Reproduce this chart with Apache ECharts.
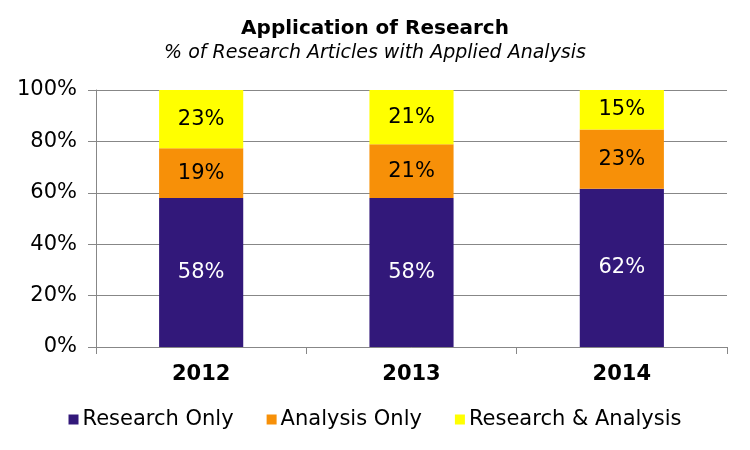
<!DOCTYPE html>
<html>
<head>
<meta charset="utf-8">
<script src="https://cdn.jsdelivr.net/npm/echarts@6/dist/echarts.min.js"></script>
<style>
  html, body { margin: 0; padding: 0; background: #fff; }
  #chart { width: 750px; height: 450px; }
</style>
</head>
<body>
<div id="chart"></div>
<script>
// values (percent of articles)
var years = ['2012', '2013', '2014'];
var researchOnly = [58.0, 58.0, 61.6];
var analysisOnly = [19.3, 20.9, 23.0];
var researchAnalysis = [22.7, 21.1, 15.4];
var yTicks = [0, 20, 40, 60, 80, 100];

var font = 'DejaVu Sans';
var gridGrey = '#878787';

var myChart = echarts.init(document.getElementById('chart'));

function barSeries(name, data, color, labelColor) {
	return {
		name: name,
		type: 'bar',
		stack: 'total',
		barWidth: '40%',
		data: data,
		itemStyle: { color: color },
		label: {
			show: true,
			position: 'inside',
			color: labelColor,
			fontFamily: font,
			fontSize: 21,
			formatter: function(p) {
				return Math.round(p.value) + '%';
			}
		}
	};
}

var option = {
	animation: false,
	backgroundColor: '#fff',
	title: {
		text: 'Application of Research',
		subtext: '% of Research Articles with Applied Analysis',
		left: 'center',
		top: 14,
		itemGap: 5,
		textStyle: { fontFamily: font, fontSize: 20, fontWeight: 'bold', color: '#000' },
		subtextStyle: { fontFamily: font, fontSize: 19, fontStyle: 'italic', color: '#000' }
	},
	legend: {
		bottom: 15,
		left: 'center',
		icon: 'rect',
		itemWidth: 10,
		itemHeight: 10,
		itemGap: 33,
		textStyle: { fontFamily: font, fontSize: 21, color: '#000', padding: [0, 0, 0, -1] },
		data: ['Research Only', 'Analysis Only', 'Research & Analysis']
	},
	grid: {
		left: 96,
		right: 23,
		top: 90,
		bottom: 103
	},
	xAxis: {
		type: 'category',
		data: years,
		axisLine: { lineStyle: { color: gridGrey, width: 1 } },
		axisTick: { show: true, length: 7, lineStyle: { color: gridGrey } },
		axisLabel: {
			margin: 17,
			fontFamily: font,
			fontSize: 21,
			fontWeight: 'bold',
			color: '#000'
		}
	},
	yAxis: {
		type: 'value',
		min: yTicks[0],
		max: yTicks[yTicks.length - 1],
		interval: yTicks[1] - yTicks[0],
		axisLine: { show: true, lineStyle: { color: gridGrey, width: 1 } },
		axisTick: { show: true, length: 8, lineStyle: { color: gridGrey } },
		splitLine: { show: true, lineStyle: { color: gridGrey, width: 1 } },
		axisLabel: {
			margin: 19,
			fontFamily: font,
			fontSize: 21,
			color: '#000',
			formatter: '{value}%'
		}
	},
	series: [
		barSeries('Research Only', researchOnly, '#32187A', '#fff'),
		barSeries('Analysis Only', analysisOnly, '#F79008', '#000'),
		barSeries('Research & Analysis', researchAnalysis, '#FFFF00', '#000')
	]
};

myChart.setOption(option, true);
</script>
</body>
</html>
